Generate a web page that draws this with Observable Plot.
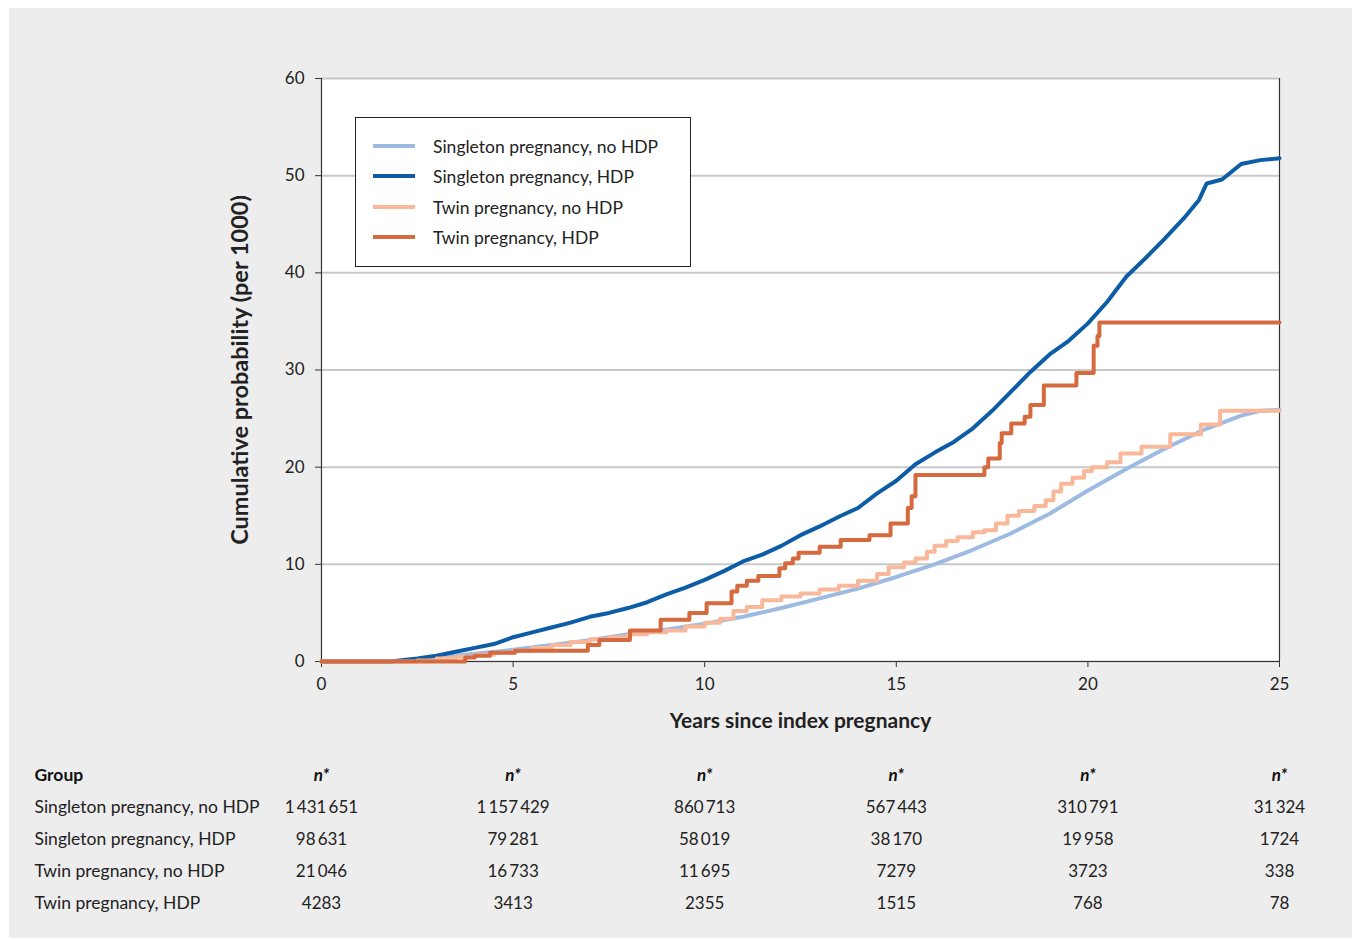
<!DOCTYPE html>
<html>
<head>
<meta charset="utf-8">
<script src="https://cdn.jsdelivr.net/npm/d3@7"></script>
<script src="https://cdn.jsdelivr.net/npm/@observablehq/plot@0.6"></script>
<style>
  body { margin: 0; background: #ffffff; font-family: Lato, "Noto Sans", sans-serif; }
  #panel { position: absolute; left: 9px; top: 8px; width: 1343px; height: 930px; background: #ededed; }
  #legend { position: absolute; left: 346px; top: 109px; width: 334px; height: 148px; border: 1px solid #222; background: #fff; }
  .lg-row { position: absolute; left: 0; height: 24px; display: flex; align-items: center; font-size: 17.5px; color: #222; white-space: nowrap; }
  .lg-sw { width: 42px; height: 4px; margin-left: 17px; margin-right: 18px; }
</style>
</head>
<body>
<div id="panel"><div id="chart"></div><div id="table"></div><div id="legend"></div></div>
<script>
// ---- data ----
const seriesNames = ["Singleton pregnancy, no HDP", "Singleton pregnancy, HDP", "Twin pregnancy, no HDP", "Twin pregnancy, HDP"];
const seriesColors = ["#9dbbe2", "#0c5ca6", "#f8b899", "#d56a3e"];
const xTicks = [0, 5, 10, 15, 20, 25];
const yTicks = [0, 10, 20, 30, 40, 50, 60];

// [years, cumulative probability per 1000]
const singletonNoHdp = [[0,0],[1.9,0],[2.5,0.2],[3,0.4],[4,0.8],[5,1.2],[6,1.7],[7,2.2],[8,2.8],[9,3.3],[10,3.9],[11,4.6],[12,5.5],[13,6.5],[14,7.5],[15,8.7],[16,10.0],[17,11.5],[18,13.2],[19,15.2],[20,17.6],[21,19.8],[22,21.9],[23,23.8],[24,25.3],[24.5,25.8],[25,25.9]];
const singletonHdp = [[0,0],[1.8,0],[2.5,0.3],[3,0.6],[3.5,1.0],[4,1.4],[4.5,1.8],[5,2.5],[5.5,3.0],[6,3.5],[6.5,4.0],[7,4.6],[7.5,5.0],[8,5.5],[8.5,6.1],[9,6.9],[9.5,7.6],[10,8.4],[10.5,9.3],[11,10.3],[11.5,11.0],[12,11.9],[12.5,13.0],[13,13.9],[13.5,14.9],[14,15.8],[14.5,17.3],[15,18.6],[15.5,20.3],[16,21.5],[16.5,22.6],[17,24.0],[17.5,25.8],[18,27.8],[18.5,29.8],[19,31.6],[19.5,33.0],[20,34.8],[20.5,37.0],[21,39.6],[21.5,41.5],[22,43.5],[22.5,45.6],[22.9,47.5],[23.1,49.2],[23.5,49.6],[24,51.2],[24.5,51.6],[25,51.8]];
const twinNoHdp = [[0,0],[2.5,0.1],[3,0.3],[3.5,0.5],[4,0.7],[4.5,0.9],[5,1.1],[5.5,1.4],[6,1.7],[6.5,2.0],[7,2.3],[7.5,2.5],[8,2.8],[8.5,3.0],[9,3.2],[9.5,3.6],[10,4.0],[10.4,4.4],[10.75,5.2],[11.1,5.6],[11.5,6.3],[12,6.7],[12.5,7.0],[13,7.4],[13.5,7.8],[14,8.3],[14.5,9.0],[14.8,9.7],[15.2,10.2],[15.5,10.6],[15.8,11.3],[16,11.9],[16.3,12.4],[16.6,12.8],[17,13.3],[17.3,13.5],[17.6,14.2],[17.9,15.0],[18.2,15.5],[18.6,16.0],[18.9,16.6],[19.1,17.5],[19.3,18.3],[19.6,18.9],[19.9,19.6],[20.1,20.0],[20.5,20.5],[20.85,21.4],[21.4,22.1],[22.15,23.4],[22.95,24.4],[23.45,25.8],[25,25.8]];
const twinHdp = [[0,0],[3.75,0.4],[4.0,0.6],[4.4,0.9],[5.05,1.1],[6.95,1.7],[7.25,2.2],[8.05,3.2],[8.85,4.3],[9.6,5.0],[10.05,6.0],[10.7,7.2],[10.85,7.8],[11.1,8.3],[11.4,8.8],[11.95,9.6],[12.1,10.1],[12.3,10.6],[12.45,11.2],[13.0,11.8],[13.55,12.5],[14.3,13.0],[14.85,14.2],[15.3,15.8],[15.4,17.0],[15.5,19.2],[17.3,20.0],[17.4,20.9],[17.7,22.5],[17.75,23.5],[18.0,24.5],[18.35,25.2],[18.5,26.4],[18.85,28.4],[19.7,29.7],[20.15,32.5],[20.25,33.5],[20.3,34.9],[25,34.9]];

// numbers at risk at 0,5,10,15,20,25 years
const nSingletonNoHdp = [1431651, 1157429, 860713, 567443, 310791, 31324];
const nSingletonHdp = [98631, 79281, 58019, 38170, 19958, 1724];
const nTwinNoHdp = [21046, 16733, 11695, 7279, 3723, 338];
const nTwinHdp = [4283, 3413, 2355, 1515, 768, 78];

const yLabel = "Cumulative probability (per 1000)";
const xLabel = "Years since index pregnancy";
const groupHeader = "Group";
const nHeader = "n*";

// ---- chart ----
const font = "Lato, 'Noto Sans', sans-serif";
const color = {domain: seriesNames, range: seriesColors};
const seriesData = [singletonNoHdp, singletonHdp, twinNoHdp, twinHdp];
const curves = ["linear", "linear", "step-after", "step-after"];
const lineMarks = seriesData.map((arr, i) =>
  Plot.line(arr.map(([t, v]) => ({t, v, s: seriesNames[i]})),
    {x: "t", y: "v", stroke: "s", strokeWidth: 4, curve: curves[i], strokeLinejoin: "round"}));

const chart = Plot.plot({
  width: 1343, height: 740,
  marginLeft: 312, marginRight: 73, marginTop: 70, marginBottom: 87,
  style: {background: "transparent", fontFamily: font, fontSize: "17px", color: "#222", overflow: "visible"},
  x: {domain: [0, 25]},
  y: {domain: [0, 60]},
  color,
  marks: [
    Plot.frame({fill: "white", stroke: null}),
    Plot.gridY(yTicks, {stroke: "#c8c8c8", strokeWidth: 2, strokeOpacity: 1}),
    Plot.axisY({ticks: yTicks, tickSize: 6, tickPadding: 11, label: null, stroke: "#333", fontSize: 17}),
    Plot.axisX({ticks: xTicks, tickSize: 6, tickPadding: 10, label: null, stroke: "#333", fontSize: 17}),
    Plot.ruleX([0, 25], {stroke: "#333", strokeWidth: 1.2}),
    Plot.ruleY([0], {stroke: "#333", strokeWidth: 1.2}),
    ...lineMarks,
    Plot.text([xLabel], {frameAnchor: "bottom", dy: 66, fontWeight: "bold", fontSize: 21, fill: "#222"}),
    Plot.text([yLabel], {frameAnchor: "left", textAnchor: "middle", dx: -81, rotate: -90, fontWeight: "bold", fontSize: 23.5, fill: "#222"})
  ]
});
chart.style.position = "absolute";
chart.style.left = "0px";
chart.style.top = "0px";
document.getElementById("chart").append(chart);

// ---- numbers-at-risk table ----
const nData = [nSingletonNoHdp, nSingletonHdp, nTwinNoHdp, nTwinHdp];
const fmtBig = d3.formatLocale({thousands: "\u2009", grouping: [3], decimal: "."}).format(",d");
const fmtN = n => n >= 10000 ? fmtBig(n) : String(n);
const rowKeys = [groupHeader, ...seriesNames];
const cells = nData.flatMap((arr, i) => arr.map((n, j) => ({x: xTicks[j], row: seriesNames[i], label: fmtN(n)})));
const headers = xTicks.map(x => ({x, row: groupHeader, label: nHeader}));

const table = Plot.plot({
  width: 1343, height: 182,
  marginLeft: 312, marginRight: 73, marginTop: 0, marginBottom: 0,
  style: {background: "transparent", fontFamily: font, fontSize: "17px", color: "#222", overflow: "visible"},
  x: {domain: [0, 25], axis: null},
  y: {type: "point", domain: rowKeys, range: [27, 155], padding: 0, axis: null},
  marks: [
    Plot.text(cells, {x: "x", y: "row", text: "label", fontSize: 17, fill: "#222"}),
    Plot.text(headers, {x: "x", y: "row", text: "label", fontSize: 17, fontWeight: "bold", fontStyle: "italic", fill: "#111"}),
    Plot.text(seriesNames, {frameAnchor: "left", y: d => d, text: d => d, textAnchor: "start", dx: -287, fontSize: 17.5, fill: "#222"}),
    Plot.text([groupHeader], {frameAnchor: "left", y: d => d, text: d => d, textAnchor: "start", dx: -287, fontSize: 17.5, fontWeight: "bold", fill: "#111"})
  ]
});
table.style.position = "absolute";
table.style.left = "0px";
table.style.top = "740px";
document.getElementById("table").append(table);

// ---- legend ----
const legend = document.getElementById("legend");
const rowTops = [16, 46, 77, 107];
seriesNames.forEach((name, i) => {
  const row = document.createElement("div");
  row.className = "lg-row";
  row.style.top = rowTops[i] + "px";
  const sw = document.createElement("div");
  sw.className = "lg-sw";
  sw.style.background = seriesColors[i];
  const tx = document.createElement("span");
  tx.textContent = name;
  row.append(sw, tx);
  legend.append(row);
});
</script>
</body>
</html>
